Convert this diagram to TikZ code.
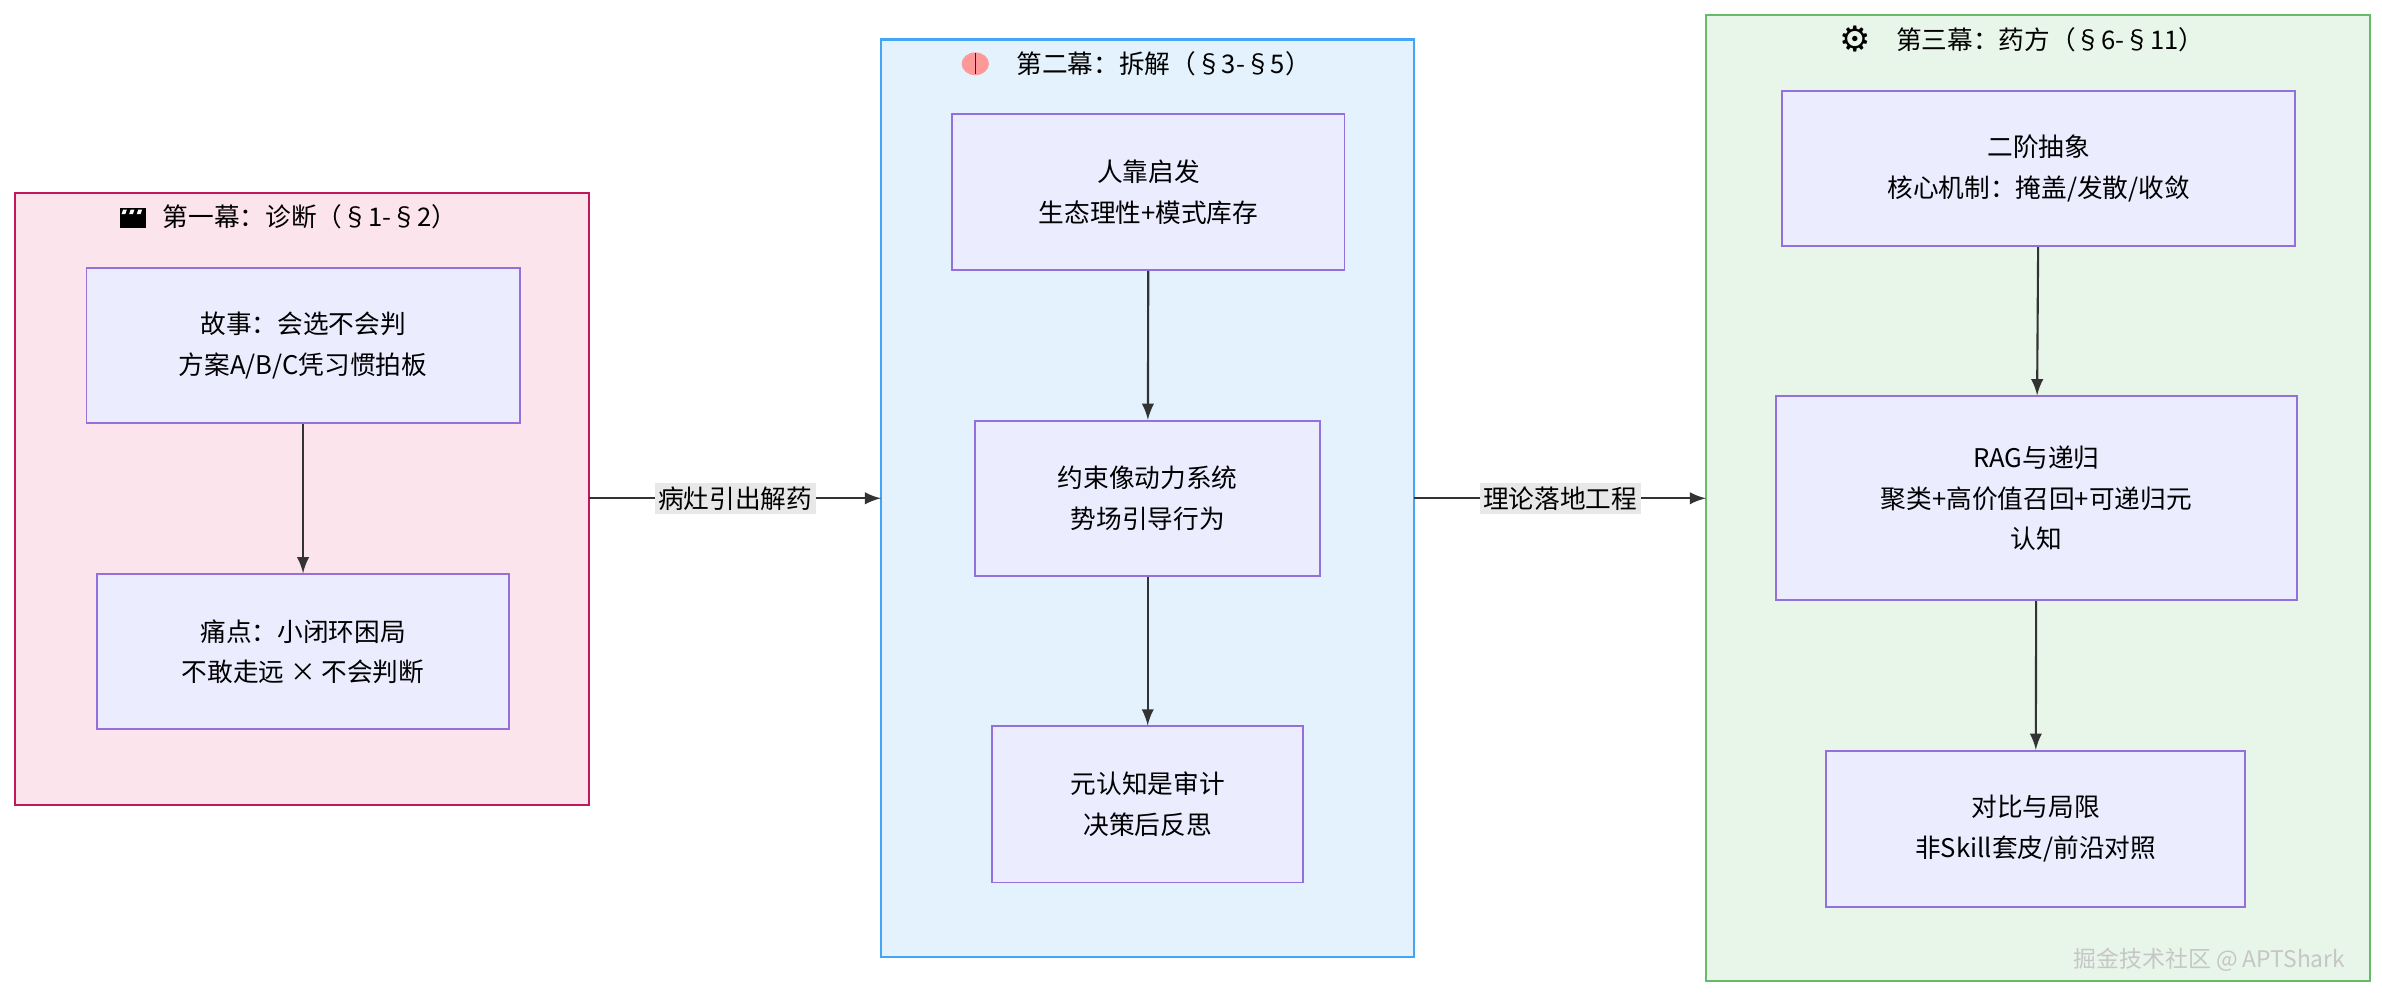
\documentclass[tikz,border=0pt]{standalone}
\usepackage{fontspec}
\setmainfont{Noto Sans CJK SC}
\newfontfamily\symfont{DejaVu Sans}
\usetikzlibrary{positioning}
\definecolor{nodefill}{HTML}{ECECFF}
\definecolor{nodeline}{HTML}{9370DB}
\definecolor{pinkfill}{HTML}{FCE4EC}
\definecolor{pinkline}{HTML}{C2185B}
\definecolor{bluefill}{HTML}{E3F2FD}
\definecolor{blueline}{HTML}{42A5F5}
\definecolor{greenfill}{HTML}{E8F5E9}
\definecolor{greenline}{HTML}{66BB6A}
\definecolor{edgeline}{HTML}{333333}
\definecolor{labelbg}{HTML}{E8E8E8}
\tikzset{
  stage/.style={draw=nodeline, fill=nodefill, line width=0.5pt, align=center,
    inner sep=0pt, font=\fontsize{7.3}{11.5}\selectfont},
  act/.style={line width=0.6pt},
  title/.style={font=\fontsize{7.3}{9}\selectfont, anchor=west},
  flow/.style={draw=edgeline, line width=0.6pt, -latex},
  tag/.style={fill=labelbg, font=\fontsize{7.3}{9}\selectfont, inner sep=1pt}
}
\begin{document}
\begin{tikzpicture}[x=0.01519cm, y=-0.01519cm]
    \useasboundingbox (0,0) rectangle (1568,657);

    % Act one
    \draw [act, draw=pinkline, fill=pinkfill] (10,127) rectangle (388,530);
    \coordinate (act1) at (388,328);
    \fill [black] (79,137) rectangle (96,150);
    \foreach \i in {0,1,2} \fill [white] (81+5*\i,138) -- ++(2.5,0) -- ++(-1,3) -- ++(-2.5,0) -- cycle;
    \node [title] at (99,143) {第一幕：诊断（§1-§2）};
    \node [stage, minimum width=4.33cm, minimum height=1.55cm] (story) at (199.5,227.5)
          {故事：会选不会判\\方案A/B/C凭习惯拍板};
    \node [stage, minimum width=4.12cm, minimum height=1.55cm] (pain) at (199.5,429)
          {痛点：小闭环困局\\不敢走远 × 不会判断};
    \draw [flow] (story) -- (pain);

    % Act two
    \draw [act, draw=blueline, fill=bluefill] (580,26) rectangle (931,630);
    \coordinate (act2in) at (580,328);
    \coordinate (act2out) at (931,328);
    \fill [pink!80!red] (642,42) ellipse (9 and 7.5);
    \draw [red!50!black, line width=0.3pt] (642,35) -- (642,49);
    \node [title] at (661,42) {第二幕：拆解（§3-§5）};
    \node [stage, minimum width=3.92cm, minimum height=1.56cm] (heur) at (756,126.5)
          {人靠启发\\生态理性+模式库存};
    \node [stage, minimum width=3.45cm, minimum height=1.55cm] (field) at (755.5,328)
          {约束像动力系统\\势场引导行为};
    \node [stage, minimum width=3.11cm, minimum height=1.56cm] (audit) at (755.5,529.5)
          {元认知是审计\\决策后反思};
    \draw [flow] (heur) -- (field);
    \draw [flow] (field) -- (audit);

    % Act three
    \draw [act, draw=greenline, fill=greenfill] (1123,10) rectangle (1560,646);
    \coordinate (act3) at (1123,328);
    \node [font=\symfont\fontsize{10}{10}\selectfont] at (1221,26) {⚙};
    \node [title] at (1240,26) {第三幕：药方（§6-§11）};
    \node [stage, minimum width=5.13cm, minimum height=1.55cm] (abs) at (1342,111)
          {二阶抽象\\核心机制：掩盖/发散/收敛};
    \node [stage, minimum width=5.21cm, minimum height=2.04cm] (rag) at (1340.5,328)
          {RAG与递归\\聚类+高价值召回+可递归元\\认知};
    \node [stage, minimum width=4.19cm, minimum height=1.56cm] (lim) at (1340,545.5)
          {对比与局限\\非Skill套皮/前沿对照};
    \draw [flow] (abs) -- (rag);
    \draw [flow] (rag) -- (lim);

    % Links between acts
    \draw [flow] (act1) -- node [tag] {病灶引出解药} (act2in);
    \draw [flow] (act2out) -- node [tag] {理论落地工程} (act3);

    % Watermark
    \node [font=\fontsize{6.5}{8}\selectfont, text=gray!45, anchor=east] at (1552,632) {掘金技术社区 @ APTShark};
\end{tikzpicture}
\end{document}
